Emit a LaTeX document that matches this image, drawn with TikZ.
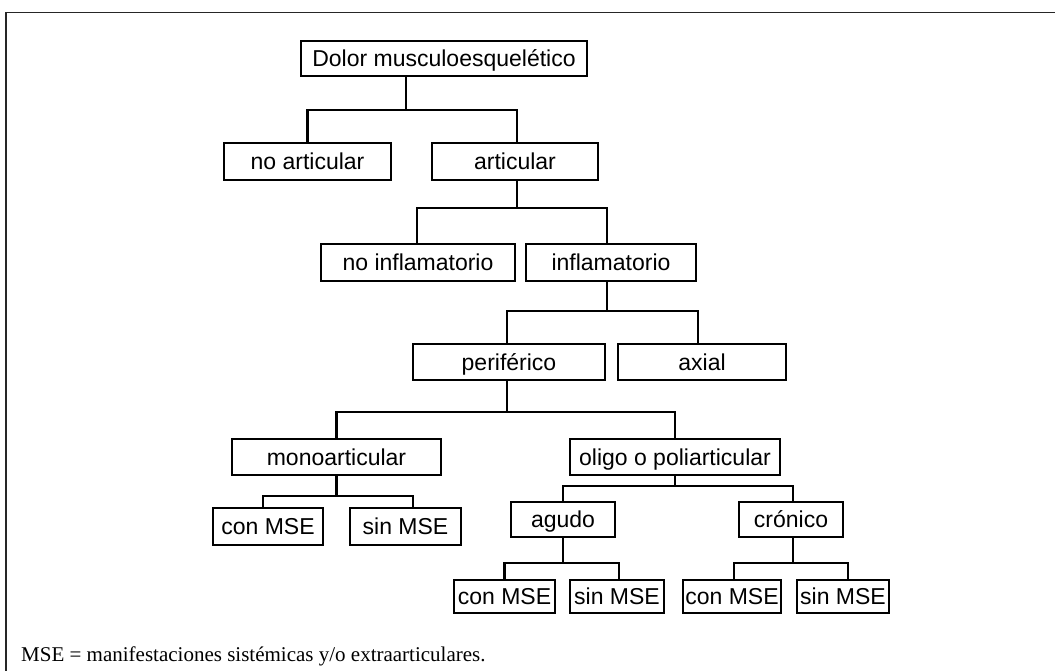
\documentclass[tikz,border=0pt]{standalone}
\usepackage{fontspec}
\setmainfont{Liberation Sans}
\newfontfamily\notefont{Liberation Serif}
\tikzset{
  boxwh/.style 2 args={draw, line width=2.3pt, inner sep=0pt, minimum width=#1, minimum height=#2,
    text height=16pt, text depth=0pt, font=\fontsize{23}{27}\selectfont},
  conn/.style={line width=2.2pt},
  frameline/.style={line width=1.3pt, draw=black!85}
}
\begin{document}
\begin{tikzpicture}[x=1pt, y=-1pt]
\useasboundingbox (0,0) rectangle (1055,671);
% frame
\coordinate (fa) at (6,700);
\coordinate (fb) at (6,12.5);
\coordinate (fc) at (1070,12.5);
\draw[frameline] (fa) -- (fb) -- (fc);
% boxes
\node[boxwh={286pt}{35pt}] (root) at (444,58.5) {Dolor musculoesquelético};
\node[boxwh={167pt}{37pt}] (noart) at (307.5,161.5) {no articular};
\node[boxwh={166pt}{37pt}] (art) at (515,161.5) {articular};
\node[boxwh={194pt}{37pt}] (noinf) at (418,262.5) {no inflamatorio};
\node[boxwh={170pt}{37pt}] (inf) at (611,262.5) {inflamatorio};
\node[boxwh={192pt}{36pt}] (peri) at (509,362) {periférico};
\node[boxwh={168pt}{36pt}] (axial) at (702,362) {axial};
\node[boxwh={209pt}{36pt}] (mono) at (336.5,457) {monoarticular};
\node[boxwh={210pt}{36pt}] (oligo) at (675,457) {oligo o poliarticular};
\node[boxwh={110pt}{37pt}] (conA) at (268,526.5) {con MSE};
\node[boxwh={111pt}{37pt}] (sinA) at (405.5,526.5) {sin MSE};
\node[boxwh={104pt}{35pt}] (agudo) at (563,519.5) {agudo};
\node[boxwh={104pt}{35pt}] (cron) at (791,519.5) {crónico};
\node[boxwh={101pt}{33pt}] (conB) at (504.5,596.5) {con MSE};
\node[boxwh={94pt}{33pt}] (sinB) at (617,596.5) {sin MSE};
\node[boxwh={98pt}{33pt}] (conC) at (732,596.5) {con MSE};
\node[boxwh={92pt}{33pt}] (sinC) at (843,596.5) {sin MSE};
% connectors
\draw[conn] ([shift={(-38,0)}]root.south) -- ++(0,32.5) coordinate (j1);
\draw[conn] (noart.north) |- (j1) -| ([shift={(2,0)}]art.north);
\draw[conn] ([shift={(2,0)}]art.south) -- ++(0,27) coordinate (j2);
\draw[conn] ([shift={(-1,0)}]noinf.north) |- (j2) -| ([shift={(-4,0)}]inf.north);
\draw[conn] ([shift={(-4,0)}]inf.south) -- ++(0,29) coordinate (j3);
\draw[conn] ([shift={(-2,0)}]peri.north) |- (j3) -| ([shift={(-4,0)}]axial.north);
\draw[conn] ([shift={(-2,0)}]peri.south) -- ++(0,31) coordinate (j4);
\draw[conn] (mono.north) |- (j4) -| (oligo.north);
\draw[conn] (mono.south) -- ++(0,20) coordinate (j5);
\draw[conn] ([shift={(-5,0)}]conA.north) |- (j5) -| ([shift={(7.5,0)}]sinA.north);
\draw[conn] (oligo.south) -- ++(0,10) coordinate (j6);
\draw[conn] (agudo.north) |- (j6) -| ([shift={(2,0)}]cron.north);
\draw[conn] (agudo.south) -- ++(0,25) coordinate (j7);
\draw[conn] (conB.north) |- (j7) -| ([shift={(2,0)}]sinB.north);
\draw[conn] ([shift={(2,0)}]cron.south) -- ++(0,25) coordinate (j8);
\draw[conn] ([shift={(2,0)}]conC.north) |- (j8) -| ([shift={(5,0)}]sinC.north);
% footnote
\node[anchor=base west, inner sep=0pt, font=\notefont\fontsize{21}{25}\selectfont] (note) at (21,661) {MSE = manifestaciones sistémicas y/o extraarticulares.};
\end{tikzpicture}
\end{document}
